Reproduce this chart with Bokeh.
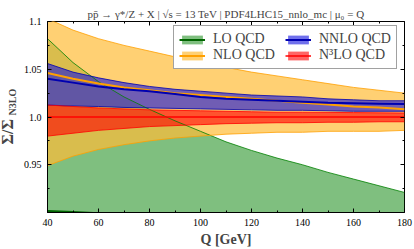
from bokeh.plotting import figure
from bokeh.models import Range1d, FixedTicker, LinearAxis, Legend, LegendItem, Title
from bokeh.embed import file_html
from bokeh.resources import INLINE

# ---- data ----
Q = [40, 50, 60, 70, 80, 90, 100, 110, 120, 130, 140, 150, 160, 170, 180]

lo_hi = [1.082, 1.057, 1.037, 1.021, 1.008, 0.996, 0.985, 0.974, 0.965, 0.957, 0.950, 0.942, 0.935, 0.928, 0.921]
lo_c = [0.9015, 0.9005, 0.8993, 0.898, 0.8965, 0.895, 0.8935, 0.892, 0.8905, 0.889, 0.8875, 0.886, 0.8845, 0.883, 0.8815]
lo_lo = [0.80, 0.80, 0.80, 0.80, 0.80, 0.80, 0.80, 0.80, 0.80, 0.80, 0.80, 0.80, 0.80, 0.80, 0.80]

nlo_hi = [1.103, 1.091, 1.082, 1.075, 1.069, 1.063, 1.057, 1.052, 1.047, 1.043, 1.039, 1.035, 1.031, 1.028, 1.025]
nlo_c = [1.046, 1.040, 1.035, 1.031, 1.028, 1.025, 1.023, 1.021, 1.019, 1.017, 1.015, 1.013, 1.011, 1.010, 1.008]
nlo_lo = [0.949, 0.959, 0.966, 0.971, 0.975, 0.978, 0.980, 0.982, 0.983, 0.984, 0.984, 0.985, 0.985, 0.985, 0.986]

nnlo_hi = [1.056, 1.047, 1.041, 1.036, 1.032, 1.029, 1.027, 1.025, 1.023, 1.022, 1.021, 1.019, 1.018, 1.017, 1.017]
nnlo_c = [1.040, 1.036, 1.032, 1.029, 1.027, 1.024, 1.021, 1.019, 1.018, 1.017, 1.016, 1.015, 1.0145, 1.014, 1.0135]
nnlo_lo = [1.0125, 1.0115, 1.011, 1.010, 1.0095, 1.009, 1.0085, 1.008, 1.0075, 1.007, 1.007, 1.0065, 1.006, 1.006, 1.006]

n3lo_hi = [1.0125, 1.011, 1.0095, 1.0085, 1.0075, 1.007, 1.0065, 1.006, 1.0055, 1.005, 1.005, 1.0048, 1.0046, 1.0044, 1.0042]
n3lo_c = [1.0, 1.0, 1.0, 1.0, 1.0, 1.0, 1.0, 1.0, 1.0, 1.0, 1.0, 1.0, 1.0, 1.0, 1.0]
n3lo_lo = [0.980, 0.983, 0.986, 0.988, 0.990, 0.991, 0.992, 0.993, 0.9935, 0.994, 0.994, 0.9945, 0.9945, 0.995, 0.995]

x_ticks = [40, 60, 80, 100, 120, 140, 160, 180]
x_minor = [50, 70, 90, 110, 130, 150, 170]
y_ticks = [0.95, 1.0, 1.05, 1.1]
y_minor = [0.925, 0.975, 1.025, 1.075]
y_tick_labels = {0.95: "0.95", 1.0: "1.0", 1.05: "1.05", 1.1: "1.1"}

title = "p" + "p\u0304" + " \u2192 \u03b3*/Z + X | \u221as = 13 TeV | PDF4LHC15_nnlo_mc | \u03bc\u2080 = Q"
x_label = "Q [GeV]"
y_label_main = "\u03a3/\u03a3"
y_label_sub = "N3LO"

SERIF = "Liberation Serif"

p = figure(width=414, height=249, output_backend="svg", toolbar_location=None,
           x_range=Range1d(40, 180), y_range=Range1d(0.9, 1.1),
           min_border_left=47, min_border_right=10, min_border_top=21, min_border_bottom=36)
p.xgrid.visible = False
p.ygrid.visible = False
p.outline_line_color = "black"
p.outline_line_width = 1
p.background_fill_color = "white"

def style_axis(ax, ticks, minor):
    ax.ticker = FixedTicker(ticks=ticks, minor_ticks=minor)
    ax.major_tick_in = 4
    ax.major_tick_out = 0
    ax.minor_tick_in = 2
    ax.minor_tick_out = 0
    ax.major_tick_line_color = "black"
    ax.minor_tick_line_color = "black"
    ax.axis_line_color = "black"
    ax.major_label_text_font = SERIF
    ax.major_label_text_color = "black"
    ax.major_label_text_font_size = "10px"
    ax.major_label_standoff = 6

style_axis(p.xaxis[0], x_ticks, x_minor)
style_axis(p.yaxis[0], y_ticks, y_minor)
p.yaxis[0].major_label_overrides = y_tick_labels

xa = p.xaxis[0]
xa.axis_label = x_label
xa.axis_label_text_font = SERIF
xa.axis_label_text_font_size = "14px"
xa.axis_label_text_font_style = "bold"
xa.axis_label_standoff = 3

# mirrored ticks on top / right, drawn as label-less minor ticks
def mirror_axis(ticks, length):
    ax = LinearAxis(ticker=FixedTicker(ticks=[], minor_ticks=ticks))
    ax.minor_tick_in = length
    ax.minor_tick_out = 0
    ax.major_tick_in = 0
    ax.major_tick_out = 0
    ax.minor_tick_line_color = "black"
    ax.axis_line_color = None
    ax.major_label_standoff = 0
    ax.axis_label_standoff = 0
    return ax

p.add_layout(mirror_axis(x_ticks, 4), "above")
p.add_layout(mirror_axis(x_minor, 2), "above")
p.add_layout(mirror_axis(y_ticks, 4), "right")
p.add_layout(mirror_axis(y_minor, 2), "right")

# title
p.title.text = title
p.title.text_font = SERIF
p.title.text_font_size = "11px"
p.title.text_font_style = "normal"
p.title.align = "center"
p.title.standoff = 3

# y label: subscript (inner panel) and main symbol (outer panel)
p.add_layout(Title(text=y_label_sub, align="left", offset=97, standoff=1, vertical_align="top",
                   text_font=SERIF, text_font_size="10px", text_font_style="bold"), "left")
p.add_layout(Title(text=y_label_main, align="left", offset=68, standoff=-18, vertical_align="bottom",
                   text_font=SERIF, text_font_size="16px", text_font_style="bold"), "left")

# colours
LO_FILL, LO_LINE = "#008000", "#006400"
NLO_FILL, NLO_LINE = "#FFBC37", "#FFA000"
NNLO_FILL, NNLO_LINE = "#1010E0", "#0000B0"
N3LO_FILL, N3LO_LINE = "#FF0000", "#FF0000"

lo_band = p.varea(x=Q, y1=lo_lo, y2=lo_hi, fill_color=LO_FILL, fill_alpha=0.5)
nlo_band = p.varea(x=Q, y1=nlo_lo, y2=nlo_hi, fill_color=NLO_FILL, fill_alpha=0.7)
nnlo_band = p.varea(x=Q, y1=nnlo_lo, y2=nnlo_hi, fill_color=NNLO_FILL, fill_alpha=0.6)
n3lo_band = p.varea(x=Q, y1=n3lo_lo, y2=n3lo_hi, fill_color=N3LO_FILL, fill_alpha=0.6)

# band edges
p.line(Q, lo_hi, line_color="#008000", line_width=0.8)
p.line(Q, nlo_hi, line_color=NLO_LINE, line_width=0.8)
p.line(Q, nlo_lo, line_color=NLO_LINE, line_width=0.8)
p.line(Q, nnlo_hi, line_color=NNLO_LINE, line_width=0.8)
p.line(Q, nnlo_lo, line_color=NNLO_LINE, line_width=0.8)
p.line(Q, n3lo_hi, line_color=N3LO_LINE, line_width=0.8)
p.line(Q, n3lo_lo, line_color=N3LO_LINE, line_width=0.8)

# central lines
lo_line = p.line(Q, lo_c, line_color=LO_LINE, line_width=2)
nlo_line = p.line(Q, nlo_c, line_color=NLO_LINE, line_width=2)
nnlo_line = p.line(Q, nnlo_c, line_color=NNLO_LINE, line_width=2)
n3lo_line = p.line(Q, n3lo_c, line_color=N3LO_LINE, line_width=1.5)

legend = Legend(items=[
    LegendItem(label="LO QCD", renderers=[lo_band, lo_line]),
    LegendItem(label="NLO QCD", renderers=[nlo_band, nlo_line]),
    LegendItem(label="NNLO QCD", renderers=[nnlo_band, nnlo_line]),
    LegendItem(label="N\u00b3LO QCD", renderers=[n3lo_band, n3lo_line]),
], ncols=2, location=(126, 143))
legend.label_text_font = SERIF
legend.label_text_font_size = "14px"
legend.label_height = 13
legend.label_width = 72
legend.glyph_height = 11
legend.glyph_width = 26
legend.label_standoff = 8
legend.padding = 5
legend.spacing = 0
legend.margin = 0
legend.border_line_color = "#444444"
legend.border_line_width = 1
legend.background_fill_alpha = 1
p.add_layout(legend, "center")

open("out.html", "w").write(file_html(p, INLINE))
